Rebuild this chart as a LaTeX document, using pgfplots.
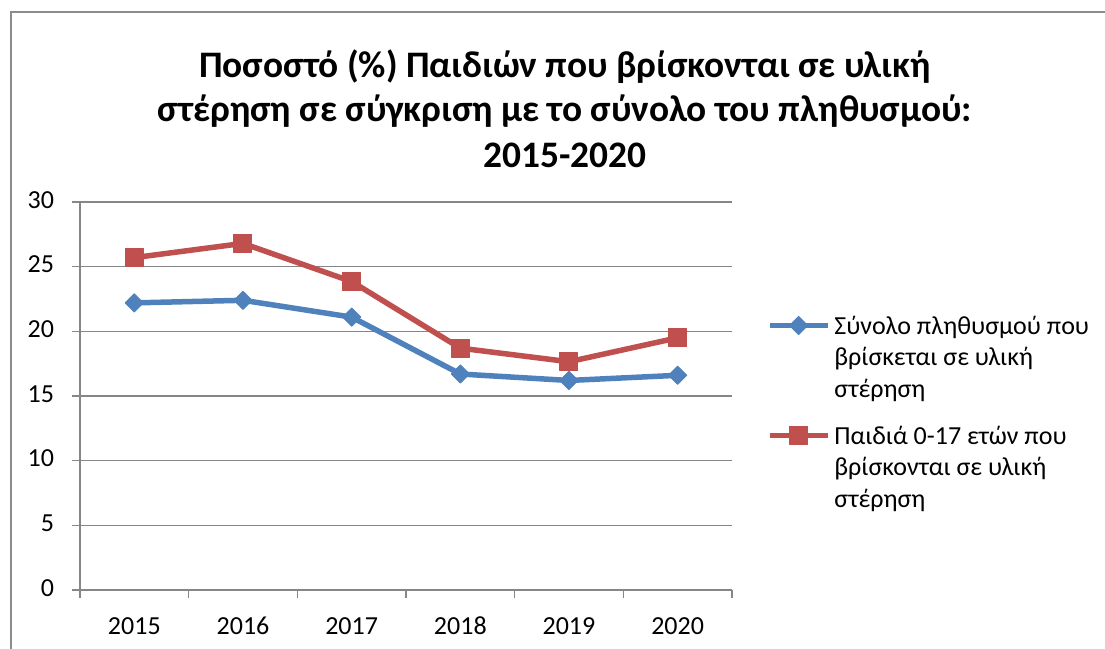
\documentclass[border=0pt]{standalone}
\usepackage{fontspec}
\setmainfont{Carlito}
\usepackage{pgfplots}
\pgfplotsset{compat=1.18}
\definecolor{serBlue}{HTML}{4F81BD}
\definecolor{serRed}{HTML}{C0504D}
\definecolor{gridGray}{HTML}{868686}
\definecolor{frameGray}{HTML}{8C8C8C}

\begin{document}
\begin{tikzpicture}
\useasboundingbox (0,0) rectangle (552.5pt,324.5pt);
\draw[frameGray,line width=0.8pt] (5.5pt,-5pt) -- (5.5pt,318.5pt) -- (560pt,318.5pt);

\begin{axis}[
  at={(40pt,29.5pt)}, anchor=south west,
  scale only axis, width=326pt, height=194pt,
  xmin=-0.5, xmax=5.5, ymin=0, ymax=30,
  xtick={-0.5,0.5,...,5.5}, xticklabels={},
  extra x ticks={0,1,2,3,4,5},
  extra x tick labels={2015,2016,2017,2018,2019,2020},
  extra x tick style={major tick length=0pt},
  ytick={0,5,...,30},
  ymajorgrids,
  major grid style={draw=gridGray,line width=0.75pt},
  axis x line*=bottom, axis y line*=left,
  axis line style={draw=gridGray,line width=0.75pt,-},
  tick style={draw=gridGray,line width=0.75pt},
  tick align=outside, major tick length=4pt,
  typeset ticklabels with strut,
  tick label style={font=\fontsize{13}{15}\selectfont},
  x tick label style={yshift=-8pt},
  y tick label style={xshift=-5.5pt},
  /pgf/number format/assume math mode=true,
  legend style={at={(1.053,0.7165)}, anchor=north west, draw=none, fill=none,
    font=\fontsize{13}{15.75}\selectfont, inner sep=0pt,
    row sep=7.75pt, column sep=2pt,
    cells={anchor=base west}, nodes={inner sep=0pt, text depth=}},
  legend image code/.code={
    \draw[mark repeat=2,mark phase=2,#1] plot coordinates {(0pt,4.5pt) (14.5pt,4.5pt) (29pt,4.5pt)};},
]
\addplot[serBlue, line width=2.75pt, line join=round, mark=square*, mark size=3.2pt,
  mark options={solid, rotate=45, line width=0.5pt, fill=serBlue}]
  coordinates {(0,22.2) (1,22.4) (2,21.1) (3,16.7) (4,16.2) (5,16.6)};
\addlegendentry{\begin{tabular}[t]{@{}l@{}}Σύνολο πληθυσμού που\\βρίσκεται σε υλική\\στέρηση\end{tabular}}
\addplot[serRed, line width=2.75pt, line join=round, mark=square*, mark size=4.5pt,
  mark options={solid, line width=0.5pt, fill=serRed}]
  coordinates {(0,25.7) (1,26.8) (2,23.85) (3,18.7) (4,17.65) (5,19.5)};
\addlegendentry{\begin{tabular}[t]{@{}l@{}}Παιδιά 0-17 ετών που\\βρίσκονται σε υλική\\στέρηση\end{tabular}}
\end{axis}

\node[anchor=base, font=\bfseries\fontsize{18.7}{21.5}\selectfont] at (282.5pt,285.5pt) {Ποσοστό (\%) Παιδιών που βρίσκονται σε υλική};
\node[anchor=base, font=\bfseries\fontsize{18.7}{21.5}\selectfont] at (282.5pt,263.5pt) {στέρηση σε σύγκριση με το σύνολο του πληθυσμού:};
\node[anchor=base, font=\bfseries\fontsize{18.7}{21.5}\selectfont] at (282.5pt,240.5pt) {2015-2020};
\end{tikzpicture}
\end{document}
